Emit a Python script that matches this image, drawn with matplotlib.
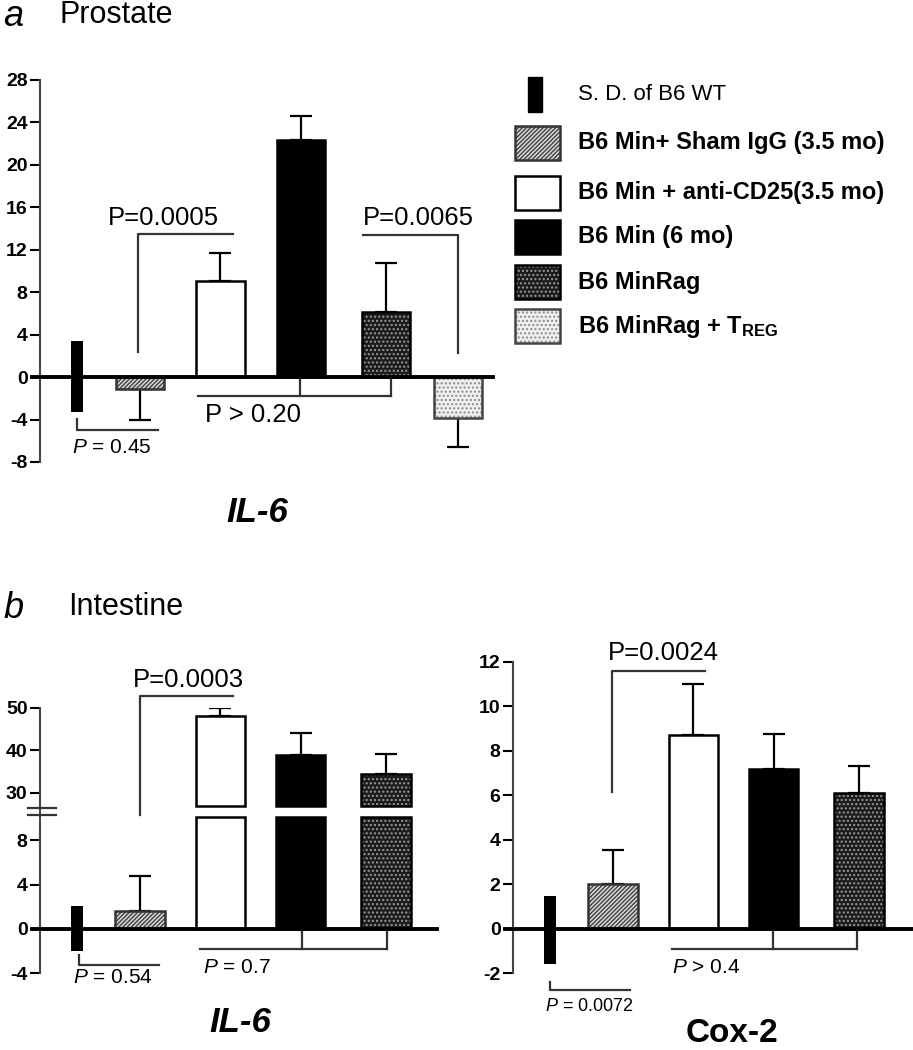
import numpy as np
import matplotlib.pyplot as plt
from matplotlib.patches import Rectangle
from matplotlib.ticker import NullLocator

plt.rcParams['font.family'] = ['Liberation Sans', 'DejaVu Sans']
plt.rcParams['mathtext.fontset'] = 'custom'
plt.rcParams['mathtext.rm'] = 'Liberation Sans'
plt.rcParams['mathtext.it'] = 'Liberation Sans:italic'
plt.rcParams['mathtext.bf'] = 'Liberation Sans:bold'
plt.rcParams['hatch.linewidth'] = 1.0
plt.rcParams['axes.unicode_minus'] = False

W, H = 913, 1050

# data
groups = ["B6 Min+ Sham IgG (3.5 mo)", "B6 Min + anti-CD25(3.5 mo)",
          "B6 Min (6 mo)", "B6 MinRag", r"B6 MinRag + $\mathbf{T_{REG}}$"]
sd_label = "S. D. of B6 WT"

# a: prostate IL-6
pro_sd = (-3.3, 3.4)
pro_il6 = [-1.1, 9.1, 22.3, 6.1, -3.9]
pro_il6_err = [2.9, 2.6, 2.3, 4.7, 2.7]

# b: intestine IL-6 (broken axis)
int_sd = (-2.0, 2.1)
int_il6 = [1.6, 48, 39, 34.4]
int_il6_err = [3.2, 2.0, 5.1, 4.8]

# b: intestine Cox-2
cox_sd = (-1.6, 1.45)
int_cox2 = [2.0, 8.7, 7.2, 6.1]
int_cox2_err = [1.55, 2.3, 1.55, 1.2]

styles = [
    dict(face='#d8d8d8', hatch='////////', hc='#404040', edge='#333333'),
    dict(face='white', hatch=None, hc=None, edge='black'),
    dict(face='black', hatch=None, hc=None, edge='black'),
    dict(face='#1c1c1c', hatch='....', hc='#9a9a9a', edge='black'),
    dict(face='#efefef', hatch='....', hc='#8a8a8a', edge='#444444'),
]

xpos = [0.45, 1.22, 2.2, 3.18, 4.22, 5.1]
bw = 0.59
sdw = 0.14


def px(x0, y0, x1, y1):
    return [x0 / W, 1 - y1 / H, (x1 - x0) / W, (y1 - y0) / H]


def style_axis(ax, ticks):
    for s in ['top', 'right', 'bottom']:
        ax.spines[s].set_visible(False)
    ax.spines['left'].set_linewidth(1.5)
    ax.spines['left'].set_color('#444444')
    ax.set_xticks([])
    ax.set_yticks(ticks, labels=[str(t) for t in ticks])
    ax.yaxis.set_minor_locator(NullLocator())
    ax.tick_params(axis='y', length=7, width=1.5, labelsize=14, pad=2)
    for lab in ax.get_yticklabels():
        lab.set_fontweight('bold')
    ax.patch.set_alpha(0)


def draw_bar(ax, x, bottom, top, w, st, lw=1.8):
    if st['hatch']:
        ax.bar(x, top - bottom, w, bottom, color=st['face'], edgecolor=st['hc'],
               hatch=st['hatch'], linewidth=0, zorder=2)
        ax.bar(x, top - bottom, w, bottom, fill=False, edgecolor=st['edge'],
               linewidth=lw, zorder=3)
    else:
        ax.bar(x, top - bottom, w, bottom, color=st['face'], edgecolor=st['edge'],
               linewidth=lw, zorder=3)


def draw_err(ax, x, v, e):
    yerr = [[0], [e]] if v >= 0 else [[e], [0]]
    ax.errorbar([x], [v], yerr=yerr, fmt='none', ecolor='black',
                elinewidth=1.6, capsize=8, capthick=1.6, zorder=1)


def bracket(ax, xs, ys):
    ax.plot(xs, ys, color='#333333', lw=1.6, clip_on=False, zorder=4)


def zero_line(ax, x1):
    ax.plot([-0.1, x1], [0, 0], color='black', lw=2.8, clip_on=False, zorder=5)


fig = plt.figure(figsize=(W / 100, H / 100), dpi=100)

# ---- panel a ----
ax = fig.add_axes(px(40, 80, 493, 462))
ax.set_xlim(0, 453 / 82)
ax.set_ylim(-8, 28)
style_axis(ax, list(range(-8, 29, 4)))
ax.bar(xpos[0], pro_sd[1] - pro_sd[0], sdw, pro_sd[0], color='black', zorder=3)
for i, (v, e) in enumerate(zip(pro_il6, pro_il6_err)):
    draw_bar(ax, xpos[i + 1], min(v, 0), max(v, 0), bw, styles[i])
    draw_err(ax, xpos[i + 1], v, e)
zero_line(ax, 453 / 82)
bracket(ax, [1.2, 1.2, 2.35], [2.36, 13.5, 13.5])
ax.text(0.83, 15.0, "P=0.0005", fontsize=18.5, ha='left', va='center')
bracket(ax, [3.94, 5.1, 5.1], [13.4, 13.4, 2.26])
ax.text(3.94, 15.0, "P=0.0065", fontsize=18.5, ha='left', va='center')
bracket(ax, [1.93, 4.28], [-1.79, -1.79])
bracket(ax, [3.17, 3.17], [0, -1.79])
bracket(ax, [4.28, 4.28], [0, -1.79])
ax.text(2.01, -3.58, "P > 0.20", fontsize=18.5, ha='left', va='center')
bracket(ax, [0.45, 0.45, 1.44], [-3.96, -5.0, -5.0])
ax.text(0.39, -6.6, r"$P$ = 0.45", fontsize=15, ha='left', va='center')

# ---- panel b, IL-6 with axis break ----
def fwd(y):
    y = np.asarray(y, dtype=float)
    return np.where(y <= 10, y, np.where(y <= 26, 10 + (y - 10) * 0.05,
                                         10.8 + (y - 26) * 0.383))


def inv(f):
    f = np.asarray(f, dtype=float)
    return np.where(f <= 10, f, np.where(f <= 10.8, 10 + (f - 10) / 0.05,
                                         26 + (f - 10.8) / 0.383))


brk = (12.4, 26.8)
ax = fig.add_axes(px(40, 708, 437, 973))
ax.set_yscale('function', functions=(fwd, inv))
ax.set_xlim(0, 397 / 82)
ax.set_ylim(-4, 50)
style_axis(ax, [-4, 0, 4, 8, 30, 40, 50])
ax.bar(xpos[0], int_sd[1] - int_sd[0], sdw, int_sd[0], color='black', zorder=3)
for i, (v, e) in enumerate(zip(int_il6, int_il6_err)):
    bwi = 0.6
    if v > brk[1]:
        draw_bar(ax, xpos[i + 1], 0, brk[0], bwi, styles[i])
        draw_bar(ax, xpos[i + 1], brk[1], v, bwi, styles[i])
    else:
        draw_bar(ax, xpos[i + 1], 0, v, bwi, styles[i])
    draw_err(ax, xpos[i + 1], v, e)
zero_line(ax, 397 / 82)
tr = ax.get_yaxis_transform()
for yb in (16, 26.4):
    ax.plot([-0.03, 0.04], [yb, yb], color='#333333', lw=1.6, transform=tr,
            clip_on=False, zorder=6)
bracket(ax, [1.22, 1.22, 2.35], [16, 52.8, 52.8])
ax.text(1.13, 56.6, "P=0.0003", fontsize=18.5, ha='left', va='center')
bracket(ax, [1.95, 4.23], [-1.83, -1.83])
bracket(ax, [3.2, 3.2], [0, -1.83])
bracket(ax, [4.23, 4.23], [0, -1.83])
ax.text(1.99, -3.46, r"$P$ = 0.7", fontsize=15, ha='left', va='center')
bracket(ax, [0.48, 0.48, 1.45], [-2.37, -3.28, -3.28])
ax.text(0.4, -4.45, r"$P$ = 0.54", fontsize=15, ha='left', va='center')

# ---- panel b, Cox-2 ----
ax = fig.add_axes(px(513, 662, 912, 973))
ax.set_xlim(0, 399 / 82)
ax.set_ylim(-2, 12)
style_axis(ax, list(range(-2, 13, 2)))
ax.bar(xpos[0], cox_sd[1] - cox_sd[0], sdw, cox_sd[0], color='black', zorder=3)
for i, (v, e) in enumerate(zip(int_cox2, int_cox2_err)):
    draw_bar(ax, xpos[i + 1], 0, v, 0.6, styles[i])
    draw_err(ax, xpos[i + 1], v, e)
zero_line(ax, 399 / 82)
bracket(ax, [1.21, 1.21, 2.34], [6.15, 11.6, 11.6])
ax.text(1.16, 12.4, "P=0.0024", fontsize=18.5, ha='left', va='center')
bracket(ax, [1.94, 4.2], [-0.92, -0.92])
bracket(ax, [3.17, 3.17], [0, -0.92])
bracket(ax, [4.2, 4.2], [0, -0.92])
ax.text(1.94, -1.77, r"$P$ > 0.4", fontsize=15, ha='left', va='center')
bracket(ax, [0.45, 0.45, 1.43], [-2.4, -2.76, -2.76])
ax.text(0.39, -3.53, r"$P$ = 0.0072", fontsize=13, ha='left', va='center')

# ---- overlay: legend and labels in pixel units ----
ov = fig.add_axes([0, 0, 1, 1])
ov.set_xlim(0, W)
ov.set_ylim(H, 0)
ov.axis('off')
ov.set_zorder(-1)

rows = [94, 143, 193, 237, 282, 326]
ov.add_patch(Rectangle((528, 77), 14, 35, color='black'))
ov.text(578, rows[0], sd_label, fontsize=16, va='center')
for i, lab in enumerate(groups):
    st = styles[i]
    r = rows[i + 1]
    if st['hatch']:
        ov.add_patch(Rectangle((515, r - 17), 45, 34, facecolor=st['face'],
                               edgecolor=st['hc'], hatch=st['hatch'], linewidth=0))
        ov.add_patch(Rectangle((515, r - 17), 45, 34, fill=False,
                               edgecolor=st['edge'], linewidth=1.8))
    else:
        ov.add_patch(Rectangle((515, r - 17), 45, 34, facecolor=st['face'],
                               edgecolor=st['edge'], linewidth=1.8))
    ov.text(578, r, lab, fontsize=17, fontweight='bold', va='center')

ov.text(3, 17, "a", fontsize=26, style='italic', va='center')
ov.text(60, 15, "Prostate", fontsize=22, va='center')
ov.text(3, 609, "b", fontsize=26, style='italic', va='center')
ov.text(68, 607, "Intestine", fontsize=22, va='center')
ov.text(257, 512, "IL-6", fontsize=25, fontweight='bold', style='italic',
        ha='center', va='center')
ov.text(240, 1022, "IL-6", fontsize=25, fontweight='bold', style='italic',
        ha='center', va='center')
ov.text(732, 1033, "Cox-2", fontsize=24, fontweight='bold',
        ha='center', va='center')

fig.savefig('out.png', dpi=100)
